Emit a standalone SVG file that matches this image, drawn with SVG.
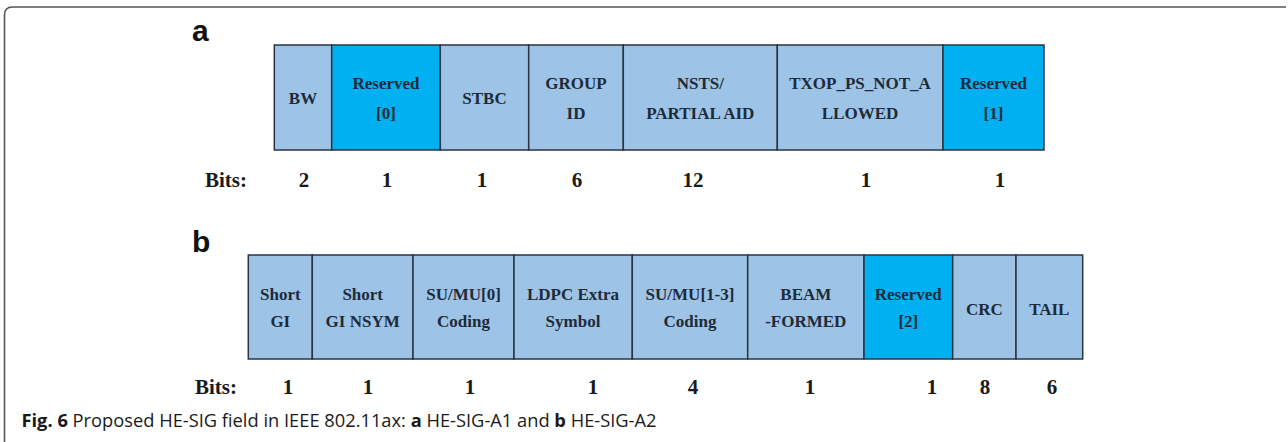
<svg xmlns="http://www.w3.org/2000/svg" width="1288" height="442" viewBox="0 0 1288 442">
<style>
.f{fill:#9dc3e6;stroke:#2b3440;stroke-width:1.5}
.r{fill:#00b0f0;stroke:#2b3440;stroke-width:1.5}
.t{font-family:"Liberation Serif",serif;font-weight:bold;font-size:17px;fill:#1e2b3a;text-anchor:middle}
.b{font-family:"Liberation Serif",serif;font-weight:bold;font-size:21px;fill:#1a1a1a;text-anchor:middle}
.lbl{font-family:"Liberation Sans",sans-serif;font-weight:bold;font-size:30px;fill:#111}
.cap{font-family:"Open Sans","Liberation Sans",sans-serif;font-size:18px;fill:#1a1a1a}
</style>
<rect width="1288" height="442" fill="#fff"/>
<path d="M4.5,442 V15 Q4.5,7 12.5,7 H1286" fill="none" stroke="#555" stroke-width="1.6"/>

<text class="lbl" x="192" y="41">a</text>
<g id="a-bw"><rect class="f" x="274.3" y="45" width="57.4" height="105"/><text class="t" x="303" y="103.5">BW</text></g>
<g id="a-res0"><rect class="r" x="331.7" y="45" width="108.6" height="105"/><text class="t" x="386" y="88.5">Reserved</text><text class="t" x="386" y="118.5">[0]</text></g>
<g id="a-stbc"><rect class="f" x="440.3" y="45" width="88.4" height="105"/><text class="t" x="484.5" y="103.5">STBC</text></g>
<g id="a-group"><rect class="f" x="528.7" y="45" width="94.6" height="105"/><text class="t" x="576" y="88.5">GROUP</text><text class="t" x="576" y="118.5">ID</text></g>
<g id="a-nsts"><rect class="f" x="623.3" y="45" width="154" height="105"/><text class="t" x="700.3" y="88.5">NSTS/</text><text class="t" x="700.3" y="118.5">PARTIAL AID</text></g>
<g id="a-txop"><rect class="f" x="777.3" y="45" width="165.7" height="105"/><text class="t" x="860" y="88.5">TXOP_PS_NOT_A</text><text class="t" x="860" y="118.5">LLOWED</text></g>
<g id="a-res1"><rect class="r" x="943" y="45" width="101" height="105"/><text class="t" x="993.5" y="88.5">Reserved</text><text class="t" x="993.5" y="118.5">[1]</text></g>

<g id="a-bits">
<text class="b" x="226" y="187">Bits:</text>
<text class="b" x="304" y="187">2</text>
<text class="b" x="387" y="187">1</text>
<text class="b" x="482" y="187">1</text>
<text class="b" x="577" y="187">6</text>
<text class="b" x="693" y="187">12</text>
<text class="b" x="866" y="187">1</text>
<text class="b" x="1000" y="187">1</text>
</g>

<text class="lbl" x="192" y="252">b</text>
<g id="b-sgi"><rect class="f" x="248.3" y="255" width="64" height="104"/><text class="t" x="280.3" y="300">Short</text><text class="t" x="280.3" y="327">GI</text></g>
<g id="b-sgin"><rect class="f" x="312.3" y="255" width="100.7" height="104"/><text class="t" x="362.7" y="300">Short</text><text class="t" x="362.7" y="327">GI NSYM</text></g>
<g id="b-su0"><rect class="f" x="413" y="255" width="101" height="104"/><text class="t" x="463.5" y="300">SU/MU[0]</text><text class="t" x="463.5" y="327">Coding</text></g>
<g id="b-ldpc"><rect class="f" x="514" y="255" width="118.3" height="104"/><text class="t" x="573" y="300">LDPC Extra</text><text class="t" x="573" y="327">Symbol</text></g>
<g id="b-su13"><rect class="f" x="632.3" y="255" width="115.4" height="104"/><text class="t" x="690" y="300">SU/MU[1-3]</text><text class="t" x="690" y="327">Coding</text></g>
<g id="b-beam"><rect class="f" x="747.7" y="255" width="116.3" height="104"/><text class="t" x="805.8" y="300">BEAM</text><text class="t" x="805.8" y="327">-FORMED</text></g>
<g id="b-res2"><rect class="r" x="864" y="255" width="88.7" height="104"/><text class="t" x="908.3" y="300">Reserved</text><text class="t" x="908.3" y="327">[2]</text></g>
<g id="b-crc"><rect class="f" x="952.7" y="255" width="63.3" height="104"/><text class="t" x="984.3" y="314.5">CRC</text></g>
<g id="b-tail"><rect class="f" x="1016" y="255" width="66.7" height="104"/><text class="t" x="1049.3" y="314.5">TAIL</text></g>

<g id="b-bits">
<text class="b" x="216" y="394">Bits:</text>
<text class="b" x="288" y="394">1</text>
<text class="b" x="368" y="394">1</text>
<text class="b" x="470" y="394">1</text>
<text class="b" x="593" y="394">1</text>
<text class="b" x="693" y="394">4</text>
<text class="b" x="810" y="394">1</text>
<text class="b" x="932" y="394">1</text>
<text class="b" x="985" y="394">8</text>
<text class="b" x="1052" y="394">6</text>
</g>

<text class="cap" x="21.5" y="427" textLength="635" lengthAdjust="spacingAndGlyphs"><tspan font-weight="bold">Fig. 6</tspan> Proposed HE-SIG field in IEEE 802.11ax: <tspan font-weight="bold">a</tspan> HE-SIG-A1 and <tspan font-weight="bold">b</tspan> HE-SIG-A2</text>
</svg>
